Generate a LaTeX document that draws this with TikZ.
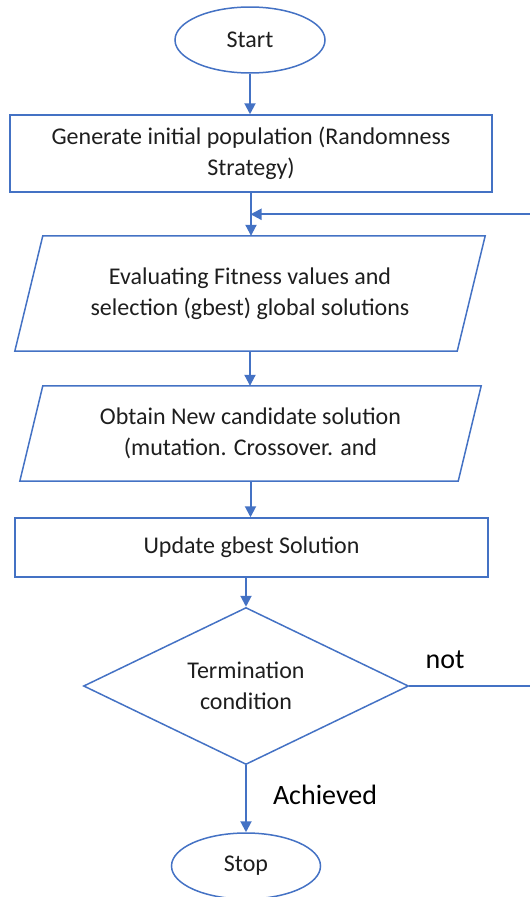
\documentclass[tikz,border=0pt]{standalone}
\usepackage{fontspec}
\setmainfont{Carlito}
\usetikzlibrary{arrows.meta,calc,shapes.geometric}
\definecolor{flowblue}{RGB}{68,114,196}
\definecolor{inktext}{RGB}{30,30,30}

\begin{document}
\begin{tikzpicture}[x=1pt,y=-1pt,
  every node/.append style={font=\fontsize{24}{31}\selectfont, text=inktext},
  outline/.style={draw=flowblue, line width=1.5pt},
  terminal/.style={outline, ellipse, inner sep=0pt, minimum width=150pt, minimum height=66pt},
  process/.style={outline, rectangle, align=center, inner sep=0pt},
  iobox/.style={rectangle, align=center, inner sep=0pt},
  decision/.style={outline, diamond, aspect=2.07, align=center, inner sep=0pt,
    minimum width=325pt, minimum height=157pt},
  flow/.style={draw=flowblue, line width=2pt, -{Triangle[width=11pt,length=11pt]}},
  tag/.style={font=\fontsize{28}{32}\selectfont, text=black}]

\useasboundingbox (0,0) rectangle (530,897);

% terminals and steps
\node[terminal] (start) at (250,40) {Start};
\node[process, minimum width=482pt, minimum height=77pt] (init) at (251,153.5)
  {Generate initial population (Randomness\\Strategy)};
\node[iobox, minimum width=470pt, minimum height=115pt] (eval) at (250,293.5)
  {Evaluating Fitness values and\\selection (gbest) global solutions};
\node[iobox, minimum width=461pt, minimum height=95pt] (cand) at (250.5,433.5)
  {Obtain New candidate solution\\(mutation. Crossover. and};
\node[process, minimum width=473pt, minimum height=59pt] (upd) at (251.5,547.5)
  {Update gbest Solution};
\node[decision] (term) at (246,686) {Termination\\condition};
\node[terminal, minimum width=149pt] (stop) at (246,866) {Stop};

% slanted data boxes
\draw[outline] ($(eval.north west)+(28,0)$) -- (eval.north east)
  -- ($(eval.south east)+(-28,0)$) -- (eval.south west) -- cycle;
\draw[outline] ($(cand.north west)+(23,0)$) -- (cand.north east)
  -- ($(cand.south east)+(-23,0)$) -- (cand.south west) -- cycle;

% main flow
\coordinate (merge) at ($(init.south)!0.5!(eval.north)$);
\draw[flow] (start.south) -- (start.south |- init.north);
\draw[flow] (init.south) -- (init.south |- eval.north);
\draw[flow] (eval.south) -- (eval.south |- cand.north);
\draw[flow] (cand.south) -- (cand.south |- upd.north);
\draw[flow] (upd.south -| term.north) -- (term.north);
\draw[flow] (term.south) -- (stop.north);

% loop back when the condition is not met
\draw[flow] (term.east) -- ++(130,0) |- (merge);

% branch labels
\node[tag] (notlbl) at (445,660) {not};
\node[tag] (achlbl) at (325,795) {Achieved};
\end{tikzpicture}
\end{document}
